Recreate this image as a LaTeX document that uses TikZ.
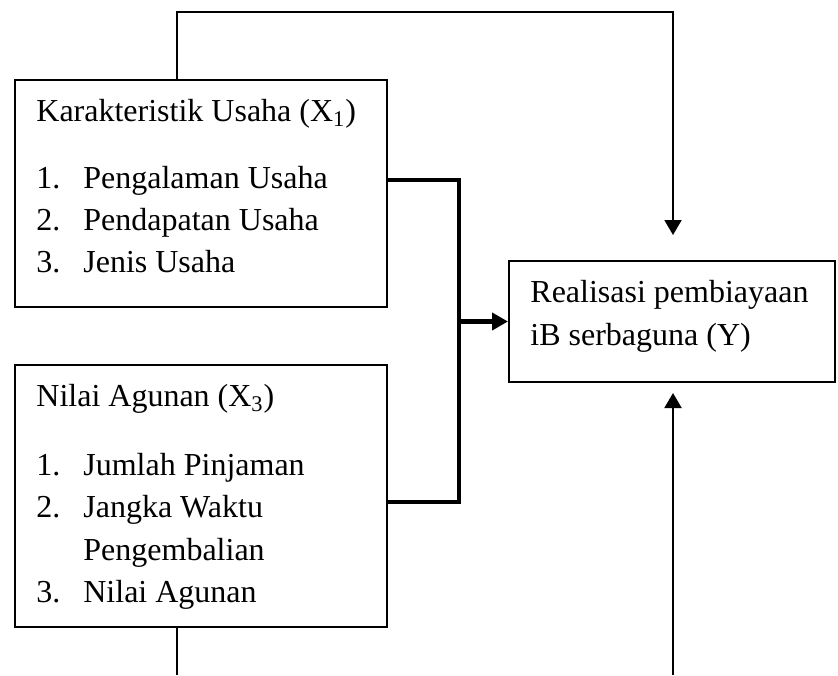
\documentclass[tikz,border=0pt]{standalone}
\usepackage{fontspec}
\setmainfont{Liberation Serif}
\usetikzlibrary{arrows.meta}
\newcommand\itm[1]{\makebox[23.5pt][l]{#1}}
\begin{document}
\begin{tikzpicture}[x=0.5pt,y=-0.5pt,
  box/.style={draw,line width=1pt,inner sep=0pt},
  txt/.style={anchor=base west,inner sep=0pt,font=\fontsize{16}{20}\selectfont},
  thinline/.style={line width=1pt},
  thickline/.style={line width=2.3pt},
  thintip/.style={-{Triangle[length=7.5pt,width=8.5pt]}},
  thicktip/.style={-{Triangle[length=8pt,width=8.5pt]}},
  ]
\useasboundingbox (0,0) rectangle (838,675);
% boxes
\node[box,minimum width=186pt,minimum height=113.5pt] (b1) at (201,193.5) {};
\node[box,minimum width=186pt,minimum height=131pt] (b2) at (201,496) {};
\node[box,minimum width=163pt,minimum height=60.5pt] (y) at (672,321.5) {};
% texts box 1
\node[txt] (t11) at (36,121) {Karakteristik Usaha (X\textsubscript{1})};
\node[txt] (t12) at (36,188) {\itm{1.}Pengalaman Usaha};
\node[txt] (t13) at (36,230) {\itm{2.}Pendapatan Usaha};
\node[txt] (t14) at (36,272) {\itm{3.}Jenis Usaha};
% texts box 2
\node[txt] (t21) at (36,406) {Nilai Agunan (X\textsubscript{3})};
\node[txt] (t22) at (36,475) {\itm{1.}Jumlah Pinjaman};
\node[txt] (t23) at (36,517) {\itm{2.}Jangka Waktu};
\node[txt] (t24) at (36,560) {\itm{}Pengembalian};
\node[txt] (t25) at (36,602) {\itm{3.}Nilai Agunan};
% text box Y
\node[txt] (ty1) at (530,302) {Realisasi pembiayaan};
\node[txt] (ty2) at (530,345) {iB serbaguna (Y)};
% coordinates
\coordinate (c1) at (177,12);
\coordinate (c2) at (673,12);
\coordinate (a1) at (673,235);
\coordinate (c3) at (177,675);
\coordinate (c4) at (673,675);
\coordinate (a2) at (673,393);
\coordinate (k1) at (459,180);
\coordinate (k2) at (459,502);
\coordinate (k3) at (459,321.5);
% thin connectors
\draw[thinline,thintip] (b1.north -| c1) -- (c1) -- (c2) -- (a1);
\draw[thinline] (b2.south -| c3) -- (c3);
\draw[thinline,thintip] (c4) -- (a2);
% thick bracket
\draw[thickline] (b1.east |- k1) -- (k1) -- (k2) -- (b2.east |- k2);
\draw[thickline,thicktip] (k3) -- (y.west);
\end{tikzpicture}
\end{document}
